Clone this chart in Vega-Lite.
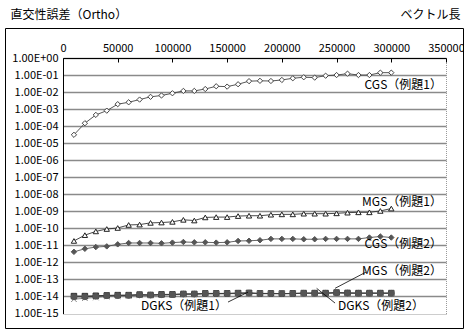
{
  "$schema": "https://vega.github.io/schema/vega-lite/v6.json",
  "width": 458,
  "height": 300,
  "autosize": "none",
  "padding": {"left": 5, "top": 28, "right": 1, "bottom": 2},
  "background": "white",
  "config": {
    "font": "Noto Sans CJK JP",
    "view": {"stroke": "black", "strokeWidth": 1},
    "axis": {"labelColor": "black", "titleColor": "black", "titleFontWeight": "normal"}
  },
  "datasets": {
    "series": [
      {"s": "CGS1", "n": 10000, "v": 3.1e-5},
      {"s": "CGS1", "n": 20000, "v": 1.48e-4},
      {"s": "CGS1", "n": 30000, "v": 4.57e-4},
      {"s": "CGS1", "n": 40000, "v": 8.1e-4},
      {"s": "CGS1", "n": 50000, "v": 1.95e-3},
      {"s": "CGS1", "n": 60000, "v": 2.51e-3},
      {"s": "CGS1", "n": 70000, "v": 3.63e-3},
      {"s": "CGS1", "n": 80000, "v": 5.25e-3},
      {"s": "CGS1", "n": 90000, "v": 6.31e-3},
      {"s": "CGS1", "n": 100000, "v": 8.51e-3},
      {"s": "CGS1", "n": 110000, "v": 1.17e-2},
      {"s": "CGS1", "n": 120000, "v": 1.17e-2},
      {"s": "CGS1", "n": 130000, "v": 1.51e-2},
      {"s": "CGS1", "n": 140000, "v": 2.19e-2},
      {"s": "CGS1", "n": 150000, "v": 2.09e-2},
      {"s": "CGS1", "n": 160000, "v": 2.88e-2},
      {"s": "CGS1", "n": 170000, "v": 4.37e-2},
      {"s": "CGS1", "n": 180000, "v": 4.57e-2},
      {"s": "CGS1", "n": 190000, "v": 4.47e-2},
      {"s": "CGS1", "n": 200000, "v": 5.13e-2},
      {"s": "CGS1", "n": 210000, "v": 6.46e-2},
      {"s": "CGS1", "n": 220000, "v": 7.41e-2},
      {"s": "CGS1", "n": 230000, "v": 7.08e-2},
      {"s": "CGS1", "n": 240000, "v": 9.12e-2},
      {"s": "CGS1", "n": 250000, "v": 1.0e-1},
      {"s": "CGS1", "n": 260000, "v": 1.2e-1},
      {"s": "CGS1", "n": 270000, "v": 1.0e-1},
      {"s": "CGS1", "n": 280000, "v": 1.0e-1},
      {"s": "CGS1", "n": 290000, "v": 1.38e-1},
      {"s": "CGS1", "n": 300000, "v": 1.38e-1},

      {"s": "MGS1", "n": 10000, "v": 1.82e-11},
      {"s": "MGS1", "n": 20000, "v": 3.98e-11},
      {"s": "MGS1", "n": 30000, "v": 6.61e-11},
      {"s": "MGS1", "n": 40000, "v": 9.12e-11},
      {"s": "MGS1", "n": 50000, "v": 1.05e-10},
      {"s": "MGS1", "n": 60000, "v": 1.58e-10},
      {"s": "MGS1", "n": 70000, "v": 1.66e-10},
      {"s": "MGS1", "n": 80000, "v": 2.09e-10},
      {"s": "MGS1", "n": 90000, "v": 2.19e-10},
      {"s": "MGS1", "n": 100000, "v": 2.4e-10},
      {"s": "MGS1", "n": 110000, "v": 3.16e-10},
      {"s": "MGS1", "n": 120000, "v": 2.88e-10},
      {"s": "MGS1", "n": 130000, "v": 4.37e-10},
      {"s": "MGS1", "n": 140000, "v": 4.57e-10},
      {"s": "MGS1", "n": 150000, "v": 4.57e-10},
      {"s": "MGS1", "n": 160000, "v": 5.25e-10},
      {"s": "MGS1", "n": 170000, "v": 5.5e-10},
      {"s": "MGS1", "n": 180000, "v": 5.5e-10},
      {"s": "MGS1", "n": 190000, "v": 6.31e-10},
      {"s": "MGS1", "n": 200000, "v": 6.61e-10},
      {"s": "MGS1", "n": 210000, "v": 6.61e-10},
      {"s": "MGS1", "n": 220000, "v": 7.24e-10},
      {"s": "MGS1", "n": 230000, "v": 7.24e-10},
      {"s": "MGS1", "n": 240000, "v": 7.24e-10},
      {"s": "MGS1", "n": 250000, "v": 7.59e-10},
      {"s": "MGS1", "n": 260000, "v": 8.32e-10},
      {"s": "MGS1", "n": 270000, "v": 8.71e-10},
      {"s": "MGS1", "n": 280000, "v": 8.71e-10},
      {"s": "MGS1", "n": 290000, "v": 1.05e-9},
      {"s": "MGS1", "n": 300000, "v": 1.45e-9},

      {"s": "CGS2", "n": 10000, "v": 4.17e-12},
      {"s": "CGS2", "n": 20000, "v": 6.31e-12},
      {"s": "CGS2", "n": 30000, "v": 7.94e-12},
      {"s": "CGS2", "n": 40000, "v": 8.71e-12},
      {"s": "CGS2", "n": 50000, "v": 1.15e-11},
      {"s": "CGS2", "n": 60000, "v": 1.38e-11},
      {"s": "CGS2", "n": 70000, "v": 1.38e-11},
      {"s": "CGS2", "n": 80000, "v": 1.38e-11},
      {"s": "CGS2", "n": 90000, "v": 1.32e-11},
      {"s": "CGS2", "n": 100000, "v": 1.45e-11},
      {"s": "CGS2", "n": 110000, "v": 1.58e-11},
      {"s": "CGS2", "n": 120000, "v": 1.51e-11},
      {"s": "CGS2", "n": 130000, "v": 1.51e-11},
      {"s": "CGS2", "n": 140000, "v": 1.45e-11},
      {"s": "CGS2", "n": 150000, "v": 1.51e-11},
      {"s": "CGS2", "n": 160000, "v": 1.82e-11},
      {"s": "CGS2", "n": 170000, "v": 1.86e-11},
      {"s": "CGS2", "n": 180000, "v": 2.0e-11},
      {"s": "CGS2", "n": 190000, "v": 2.4e-11},
      {"s": "CGS2", "n": 200000, "v": 2.4e-11},
      {"s": "CGS2", "n": 210000, "v": 2.4e-11},
      {"s": "CGS2", "n": 220000, "v": 2.29e-11},
      {"s": "CGS2", "n": 230000, "v": 2.29e-11},
      {"s": "CGS2", "n": 240000, "v": 2.4e-11},
      {"s": "CGS2", "n": 250000, "v": 2.4e-11},
      {"s": "CGS2", "n": 260000, "v": 2.4e-11},
      {"s": "CGS2", "n": 270000, "v": 2.4e-11},
      {"s": "CGS2", "n": 280000, "v": 2.88e-11},
      {"s": "CGS2", "n": 290000, "v": 3.31e-11},
      {"s": "CGS2", "n": 300000, "v": 2.88e-11},

      {"s": "MGS2", "n": 10000, "v": 1.05e-14},
      {"s": "MGS2", "n": 20000, "v": 1.05e-14},
      {"s": "MGS2", "n": 30000, "v": 1.1e-14},
      {"s": "MGS2", "n": 40000, "v": 1.15e-14},
      {"s": "MGS2", "n": 50000, "v": 1.2e-14},
      {"s": "MGS2", "n": 60000, "v": 1.2e-14},
      {"s": "MGS2", "n": 70000, "v": 1.29e-14},
      {"s": "MGS2", "n": 80000, "v": 1.23e-14},
      {"s": "MGS2", "n": 90000, "v": 1.32e-14},
      {"s": "MGS2", "n": 100000, "v": 1.32e-14},
      {"s": "MGS2", "n": 110000, "v": 1.41e-14},
      {"s": "MGS2", "n": 120000, "v": 1.41e-14},
      {"s": "MGS2", "n": 130000, "v": 1.51e-14},
      {"s": "MGS2", "n": 140000, "v": 1.51e-14},
      {"s": "MGS2", "n": 150000, "v": 1.51e-14},
      {"s": "MGS2", "n": 160000, "v": 1.58e-14},
      {"s": "MGS2", "n": 170000, "v": 1.62e-14},
      {"s": "MGS2", "n": 180000, "v": 1.51e-14},
      {"s": "MGS2", "n": 190000, "v": 1.51e-14},
      {"s": "MGS2", "n": 200000, "v": 1.48e-14},
      {"s": "MGS2", "n": 210000, "v": 1.51e-14},
      {"s": "MGS2", "n": 220000, "v": 1.58e-14},
      {"s": "MGS2", "n": 230000, "v": 1.58e-14},
      {"s": "MGS2", "n": 240000, "v": 1.58e-14},
      {"s": "MGS2", "n": 250000, "v": 1.7e-14},
      {"s": "MGS2", "n": 260000, "v": 1.62e-14},
      {"s": "MGS2", "n": 270000, "v": 1.58e-14},
      {"s": "MGS2", "n": 280000, "v": 1.58e-14},
      {"s": "MGS2", "n": 290000, "v": 1.58e-14},
      {"s": "MGS2", "n": 300000, "v": 1.58e-14},

      {"s": "DGKS1", "n": 10000, "v": 6.9e-15},
      {"s": "DGKS1", "n": 20000, "v": 7.9e-15},
      {"s": "DGKS1", "n": 30000, "v": 8.7e-15},
      {"s": "DGKS1", "n": 40000, "v": 1.0e-14},
      {"s": "DGKS1", "n": 50000, "v": 1.05e-14},
      {"s": "DGKS1", "n": 60000, "v": 1.1e-14},
      {"s": "DGKS1", "n": 70000, "v": 1.17e-14},
      {"s": "DGKS1", "n": 80000, "v": 1.17e-14},
      {"s": "DGKS1", "n": 90000, "v": 1.23e-14},
      {"s": "DGKS1", "n": 100000, "v": 1.26e-14},
      {"s": "DGKS1", "n": 110000, "v": 1.32e-14},
      {"s": "DGKS1", "n": 120000, "v": 1.35e-14},
      {"s": "DGKS1", "n": 130000, "v": 1.41e-14},
      {"s": "DGKS1", "n": 140000, "v": 1.41e-14},
      {"s": "DGKS1", "n": 150000, "v": 1.45e-14},
      {"s": "DGKS1", "n": 160000, "v": 1.48e-14},
      {"s": "DGKS1", "n": 170000, "v": 1.51e-14},
      {"s": "DGKS1", "n": 180000, "v": 1.45e-14},
      {"s": "DGKS1", "n": 190000, "v": 1.45e-14},
      {"s": "DGKS1", "n": 200000, "v": 1.45e-14},
      {"s": "DGKS1", "n": 210000, "v": 1.48e-14},
      {"s": "DGKS1", "n": 220000, "v": 1.51e-14},
      {"s": "DGKS1", "n": 230000, "v": 1.55e-14},
      {"s": "DGKS1", "n": 240000, "v": 1.51e-14},
      {"s": "DGKS1", "n": 250000, "v": 1.58e-14},
      {"s": "DGKS1", "n": 260000, "v": 1.55e-14},
      {"s": "DGKS1", "n": 270000, "v": 1.51e-14},
      {"s": "DGKS1", "n": 280000, "v": 1.55e-14},
      {"s": "DGKS1", "n": 290000, "v": 1.51e-14},
      {"s": "DGKS1", "n": 300000, "v": 1.51e-14},

      {"s": "DGKS2", "n": 10000, "v": 9.5e-15},
      {"s": "DGKS2", "n": 20000, "v": 9.5e-15},
      {"s": "DGKS2", "n": 30000, "v": 1.02e-14},
      {"s": "DGKS2", "n": 40000, "v": 1.1e-14},
      {"s": "DGKS2", "n": 50000, "v": 1.12e-14},
      {"s": "DGKS2", "n": 60000, "v": 1.15e-14},
      {"s": "DGKS2", "n": 70000, "v": 1.23e-14},
      {"s": "DGKS2", "n": 80000, "v": 1.2e-14},
      {"s": "DGKS2", "n": 90000, "v": 1.26e-14},
      {"s": "DGKS2", "n": 100000, "v": 1.29e-14},
      {"s": "DGKS2", "n": 110000, "v": 1.38e-14},
      {"s": "DGKS2", "n": 120000, "v": 1.38e-14},
      {"s": "DGKS2", "n": 130000, "v": 1.48e-14},
      {"s": "DGKS2", "n": 140000, "v": 1.48e-14},
      {"s": "DGKS2", "n": 150000, "v": 1.48e-14},
      {"s": "DGKS2", "n": 160000, "v": 1.55e-14},
      {"s": "DGKS2", "n": 170000, "v": 1.58e-14},
      {"s": "DGKS2", "n": 180000, "v": 1.48e-14},
      {"s": "DGKS2", "n": 190000, "v": 1.48e-14},
      {"s": "DGKS2", "n": 200000, "v": 1.45e-14},
      {"s": "DGKS2", "n": 210000, "v": 1.48e-14},
      {"s": "DGKS2", "n": 220000, "v": 1.55e-14},
      {"s": "DGKS2", "n": 230000, "v": 1.55e-14},
      {"s": "DGKS2", "n": 240000, "v": 1.55e-14},
      {"s": "DGKS2", "n": 250000, "v": 1.66e-14},
      {"s": "DGKS2", "n": 260000, "v": 1.58e-14},
      {"s": "DGKS2", "n": 270000, "v": 1.55e-14},
      {"s": "DGKS2", "n": 280000, "v": 1.55e-14},
      {"s": "DGKS2", "n": 290000, "v": 1.55e-14},
      {"s": "DGKS2", "n": 300000, "v": 1.55e-14}
    ],
    "labels": [
      {"label": "CGS（例題1）", "n": 346300, "v": 2.6e-2},
      {"label": "MGS（例題1）", "n": 346300, "v": 3.3e-9},
      {"label": "CGS（例題2）", "n": 346300, "v": 1.15e-11},
      {"label": "MGS（例題2）", "n": 346300, "v": 3.2e-13},
      {"label": "DGKS（例題2）", "n": 329900, "v": 2.75e-15},
      {"label": "DGKS（例題1）", "n": 149900, "v": 2.9e-15}
    ],
    "leaders": [
      {"n": 276900, "v": 2.7e-13, "n2": 248600, "v2": 3.0e-14},
      {"n": 231800, "v": 3.0e-14, "n2": 248600, "v2": 4.1e-15},
      {"n": 150800, "v": 4.7e-15, "n2": 169100, "v2": 1.8e-14}
    ]
  },
  "encoding": {
    "x": {
      "field": "n",
      "type": "quantitative",
      "scale": {"domain": [0, 350000], "range": [58, 441], "nice": false, "zero": false},
      "axis": {
        "orient": "top",
        "offset": -30,
        "values": [0, 50000, 100000, 150000, 200000, 250000, 300000, 350000],
        "format": "d",
        "labelFontSize": 11,
        "labelPadding": 9,
        "labelFlush": false,
        "labelOverlap": false,
        "domainColor": "black",
        "domainWidth": 1,
        "tickColor": "black",
        "tickSize": -4,
        "grid": true,
        "gridColor": "#9a9a9a",
        "gridDash": [1, 1],
        "gridOpacity": {"condition": {"test": "datum.value >= 350000", "value": 1}, "value": 0},
        "title": "ベクトル長",
        "titleFontSize": 12,
        "titleAlign": "right",
        "titleBaseline": "middle",
        "titleAngle": 0,
        "titleX": 455,
        "titleY": -44
      }
    },
    "y": {
      "field": "v",
      "type": "quantitative",
      "scale": {"type": "log", "domain": [1e-15, 1], "range": [285.5, 30], "nice": false},
      "axis": {
        "orient": "left",
        "offset": -58,
        "values": [1, 1e-1, 1e-2, 1e-3, 1e-4, 1e-5, 1e-6, 1e-7, 1e-8, 1e-9, 1e-10, 1e-11, 1e-12, 1e-13, 1e-14, 1e-15],
        "labelExpr": "datum.value >= 1 ? '1.00E+00' : '1.00E-' + (round(-log(datum.value) / LN10) < 10 ? '0' : '') + round(-log(datum.value) / LN10)",
        "labelFontSize": 11,
        "labelPadding": 5,
        "labelOverlap": false,
        "ticks": false,
        "domainColor": "black",
        "domainWidth": 1,
        "grid": true,
        "gridColor": {"condition": {"test": "datum.value < 3e-15", "value": "#9a9a9a"}, "value": "#8a8a8a"},
        "gridWidth": {"condition": {"test": "datum.value < 3e-15", "value": 1}, "value": 1.6},
        "gridDash": {"condition": {"test": "datum.value < 3e-15", "value": [1, 1]}, "value": []},
        "title": "直交性誤差（Ortho）",
        "titleFontSize": 12,
        "titleAngle": 0,
        "titleAlign": "left",
        "titleBaseline": "middle",
        "titleX": -53,
        "titleY": -14
      }
    }
  },
  "layer": [
    {
      "data": {"name": "series"},
      "mark": {"type": "line", "strokeWidth": 0.9},
      "encoding": {
        "color": {
          "field": "s",
          "type": "nominal",
          "scale": {"domain": ["CGS1", "MGS1", "CGS2", "MGS2", "DGKS1", "DGKS2"], "range": ["#444444", "#333333", "#555555", "#222222", "#777777", "#333333"]},
          "legend": null
        }
      }
    },
    {
      "data": {"name": "series"},
      "mark": {"type": "point", "filled": true, "strokeWidth": 1, "opacity": 1},
      "encoding": {
        "shape": {
          "field": "s",
          "type": "nominal",
          "scale": {"domain": ["CGS1", "MGS1", "CGS2", "MGS2", "DGKS1", "DGKS2"], "range": ["diamond", "triangle-up", "diamond", "square", "M-1,-1L1,1M-1,1L1,-1", "circle"]},
          "legend": null
        },
        "fill": {
          "field": "s",
          "type": "nominal",
          "scale": {"domain": ["CGS1", "MGS1", "CGS2", "MGS2", "DGKS1", "DGKS2"], "range": ["#ffffff", "#ffffff", "#555555", "#333333", "#888888", "#555555"]},
          "legend": null
        },
        "stroke": {
          "field": "s",
          "type": "nominal",
          "scale": {"domain": ["CGS1", "MGS1", "CGS2", "MGS2", "DGKS1", "DGKS2"], "range": ["#444444", "#222222", "#555555", "#333333", "#888888", "#555555"]},
          "legend": null
        },
        "size": {
          "field": "s",
          "type": "nominal",
          "scale": {"domain": ["CGS1", "MGS1", "CGS2", "MGS2", "DGKS1", "DGKS2"], "range": [28, 32, 26, 12, 16, 14]},
          "legend": null
        }
      }
    },
    {
      "data": {"name": "leaders"},
      "mark": {"type": "rule", "color": "black", "strokeWidth": 0.8},
      "encoding": {
        "x2": {"field": "n2"},
        "y2": {"field": "v2"}
      }
    },
    {
      "data": {"name": "labels"},
      "mark": {"type": "text", "align": "right", "baseline": "middle", "fontSize": 12, "color": "black"},
      "encoding": {
        "text": {"field": "label", "type": "nominal"}
      }
    }
  ]
}
